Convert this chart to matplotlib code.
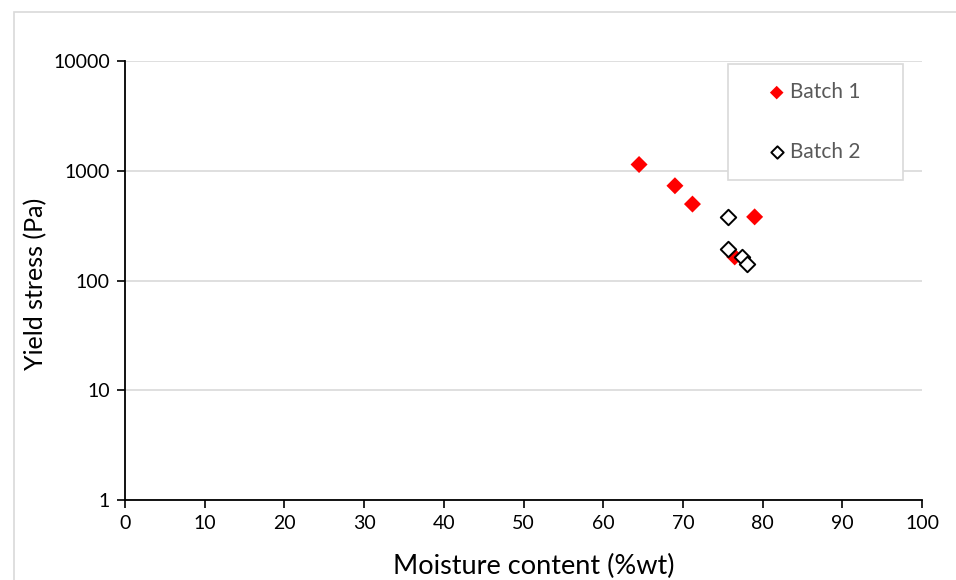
import matplotlib.pyplot as plt
from matplotlib.ticker import FixedLocator, FuncFormatter

plt.rcParams['font.family'] = ['Lato', 'DejaVu Sans']

# Batch 1 (red filled diamonds)
b1_moisture = [64.5, 69.0, 71.2, 79.0, 76.5]
b1_stress = [1140, 730, 497, 380, 164]
# Batch 2 (open diamonds)
b2_moisture = [75.6, 75.7, 77.4, 78.1]
b2_stress = [380, 192, 164, 141]

xticks = list(range(0, 101, 10))
yticks = [1, 10, 100, 1000, 10000]

fig = plt.figure(figsize=(9.56, 5.8), dpi=100)
ax = fig.add_axes([125/956, 80/580, 797/956, 439/580])

ax.scatter(b1_moisture, b1_stress, marker='D', s=75, c='#ff0000', edgecolors='none', label='Batch 1', zorder=3)
ax.scatter(b2_moisture, b2_stress, marker='D', s=62, facecolors='white', edgecolors='black', linewidths=1.4, label='Batch 2', zorder=4)

ax.set_yscale('log')
ax.set_xlim(0, 100)
ax.set_ylim(1, 10000)
ax.xaxis.set_major_locator(FixedLocator(xticks))
ax.yaxis.set_major_locator(FixedLocator(yticks))
ax.yaxis.set_minor_locator(FixedLocator([]))
ax.yaxis.set_major_formatter(FuncFormatter(lambda v, p: '%d' % v))
ax.grid(axis='y', color='#d9d9d9', linewidth=1.2)
ax.set_axisbelow(True)

for s in ['top', 'right']:
    ax.spines[s].set_visible(False)
for s in ['left', 'bottom']:
    ax.spines[s].set_color('black')
    ax.spines[s].set_linewidth(1.3)
ax.tick_params(axis='both', direction='out', length=6, width=1.2, labelsize=14, colors='black')
ax.tick_params(axis='y', pad=5)
ax.tick_params(axis='x', pad=5)

ax.set_xlabel('Moisture content (%wt)', fontsize=19.5)
ax.set_ylabel('Yield stress (Pa)', fontsize=18)
ax.xaxis.set_label_coords(0.513, -0.122)
ax.yaxis.set_label_coords(-0.098, 0.492)

# legend: entries without frame, frame drawn as a separate box
leg = ax.legend(loc='upper left', bbox_to_anchor=(0.802, 0.952), frameon=False,
                fontsize=15, labelspacing=1.9, borderpad=0, borderaxespad=0,
                handletextpad=0.05, handlelength=1.2, markerscale=0.8)
for t in leg.get_texts():
    t.set_color('#595959')
ax.add_patch(plt.Rectangle((0.757, 0.729), 0.2196, 0.264, transform=ax.transAxes,
                           fill=True, facecolor='white', edgecolor='#d9d9d9', linewidth=1.2, zorder=5))
leg.set_zorder(6)

# outer chart border
fig.patches.append(plt.Rectangle((14/956, -0.1), 1, 1.1 - 12/580, transform=fig.transFigure,
                                 fill=False, edgecolor='#d9d9d9', linewidth=1.2))

fig.savefig('out.png', dpi=100)
